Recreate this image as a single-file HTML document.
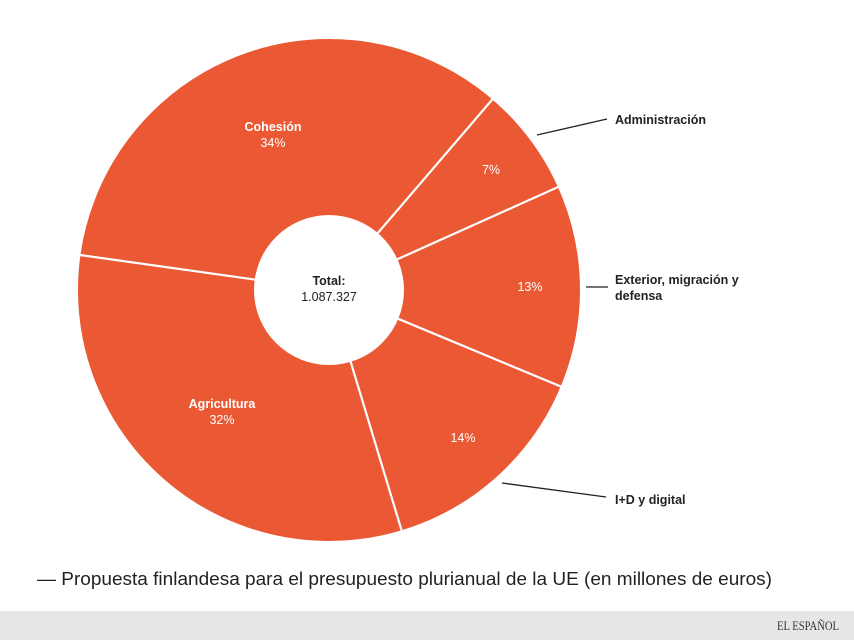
<!DOCTYPE html>
<html><head><meta charset="utf-8"><style>
html,body{margin:0;padding:0;background:#fff}
svg{display:block}
text{font-family:"Liberation Sans",sans-serif}
</style></head><body>
<svg width="854" height="640" viewBox="0 0 854 640" xmlns="http://www.w3.org/2000/svg">
<rect width="854" height="640" fill="#fff"/>
<circle cx="329" cy="290" r="163" fill="none" stroke="#ea5934" stroke-width="176"/>
<g stroke="#fff" stroke-width="2.2">
<line x1="329" y1="215" x2="329" y2="36" transform="rotate(278 329 290)"/>
<line x1="329" y1="215" x2="329" y2="36" transform="rotate(40.6 329 290)"/>
<line x1="329" y1="215" x2="329" y2="36" transform="rotate(65.8 329 290)"/>
<line x1="329" y1="215" x2="329" y2="36" transform="rotate(112.6 329 290)"/>
<line x1="329" y1="215" x2="329" y2="36" transform="rotate(163.2 329 290)"/>
</g>
<g fill="#fff" font-size="12.5" text-anchor="middle">
<text x="273" y="131" font-weight="bold">Cohesión</text>
<text x="273" y="147">34%</text>
<text x="491" y="174">7%</text>
<text x="530" y="291">13%</text>
<text x="463" y="442">14%</text>
<text x="222" y="408" font-weight="bold">Agricultura</text>
<text x="222" y="424">32%</text>
</g>
<g fill="#222" font-size="12.5" text-anchor="middle">
<text x="329" y="285" font-weight="bold">Total:</text>
<text x="329" y="301">1.087.327</text>
</g>
<g stroke="#222" stroke-width="1.3" fill="none">
<line x1="537" y1="135" x2="607" y2="119"/>
<line x1="586" y1="287" x2="608" y2="287"/>
<line x1="502" y1="483" x2="606" y2="497"/>
</g>
<g fill="#222" font-size="12.5" font-weight="bold">
<text x="615" y="124">Administración</text>
<text x="615" y="284">Exterior, migración y</text>
<text x="615" y="300">defensa</text>
<text x="615" y="504">I+D y digital</text>
</g>
<text x="37" y="585" font-size="18.5" fill="#222" textLength="735" lengthAdjust="spacingAndGlyphs">— Propuesta finlandesa para el presupuesto plurianual de la UE (en millones de euros)</text>
<rect x="0" y="611" width="854" height="29" fill="#e6e6e6"/>
<text x="839" y="630" font-size="13" font-family="Liberation Serif,serif" fill="#333" text-anchor="end" textLength="62" lengthAdjust="spacingAndGlyphs" style="font-family:'Liberation Serif',serif">EL ESPAÑOL</text>
</svg>
</body></html>
